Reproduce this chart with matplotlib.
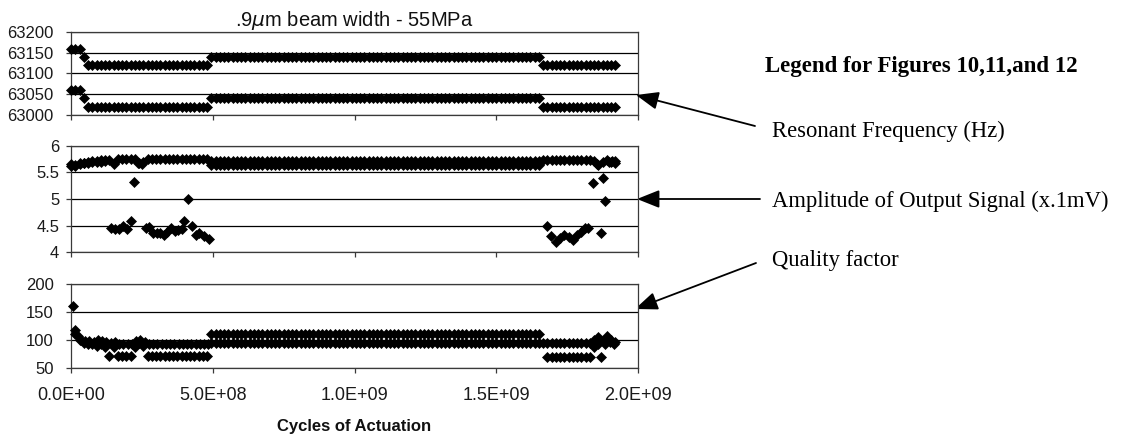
"""Rebuild the .9um beam width / 55MPa fatigue chart with the figure legend."""
import matplotlib

matplotlib.use("Agg")
import matplotlib.pyplot as plt
from matplotlib.ticker import FixedLocator, FuncFormatter

plt.rcParams["font.family"] = ["Liberation Sans", "DejaVu Sans"]

W, H = 1141, 438

# readings were logged roughly every 1.5e7 cycles; flat runs are stored as
# (first cycle, last cycle, value) and odd readings as (cycle, value)
SAMPLE_STEP = 1.5e7

freq_a_runs = [(0, 3.0e7, 63160), (4.5e7, 4.5e7, 63140), (6.0e7, 4.8e8, 63120),
               (4.95e8, 1.65e9, 63140), (1.665e9, 1.92e9, 63120)]
freq_b_runs = [(0, 3.0e7, 63060), (4.5e7, 4.5e7, 63040), (6.0e7, 4.8e8, 63020),
               (4.95e8, 1.65e9, 63040), (1.665e9, 1.92e9, 63020)]

amp_a_runs = [(2.85e8, 4.8e8, 5.76), (4.95e8, 1.65e9, 5.71), (1.665e9, 1.83e9, 5.74)]
amp_a_points = [(0, 5.62), (1.5e7, 5.65), (3e7, 5.67), (4.5e7, 5.68), (6e7, 5.70),
                (7.5e7, 5.71), (9e7, 5.72), (1.05e8, 5.73), (1.2e8, 5.74), (1.35e8, 5.74),
                (1.5e8, 5.66), (1.65e8, 5.75), (1.8e8, 5.76), (1.95e8, 5.75), (2.1e8, 5.76),
                (2.25e8, 5.75), (2.4e8, 5.68), (2.55e8, 5.70), (2.7e8, 5.75),
                (1.845e9, 5.72), (1.86e9, 5.65), (1.875e9, 5.70), (1.89e9, 5.73),
                (1.905e9, 5.70), (1.92e9, 5.71)]

amp_b_runs = [(4.95e8, 1.65e9, 5.64)]
amp_b_points = [(0, 5.66), (1.5e7, 5.63), (3e7, 5.66), (4.5e7, 5.67), (6e7, 5.68),
                (7.5e7, 5.69), (9e7, 5.70), (1.05e8, 5.70), (1.2e8, 5.71),
                (1.4e8, 4.46), (1.55e8, 4.44), (1.68e8, 4.43), (1.82e8, 4.50), (1.96e8, 4.44),
                (2.1e8, 4.58), (2.23e8, 5.33), (2.38e8, 5.67), (2.5e8, 5.66),
                (2.63e8, 4.45), (2.76e8, 4.47), (2.9e8, 4.36), (3.02e8, 4.35), (3.14e8, 4.35),
                (3.27e8, 4.33), (3.4e8, 4.37), (3.53e8, 4.45), (3.66e8, 4.40), (3.78e8, 4.42),
                (3.9e8, 4.43), (4.0e8, 4.58), (4.13e8, 5.00), (4.26e8, 4.50), (4.4e8, 4.33),
                (4.53e8, 4.35), (4.68e8, 4.30), (4.86e8, 4.25),
                (1.68e9, 4.49), (1.693e9, 4.31), (1.71e9, 4.19), (1.725e9, 4.26),
                (1.74e9, 4.32), (1.755e9, 4.28), (1.77e9, 4.23), (1.785e9, 4.32),
                (1.798e9, 4.38), (1.812e9, 4.46), (1.825e9, 4.46), (1.842e9, 5.30),
                (1.856e9, 5.66), (1.868e9, 4.36), (1.875e9, 5.39), (1.884e9, 4.96),
                (1.897e9, 5.70), (1.91e9, 5.72), (1.92e9, 5.68)]

q_a_runs = [(2.75e8, 4.8e8, 93), (4.95e8, 1.65e9, 111), (1.665e9, 1.83e9, 94)]
q_a_points = [(8e6, 160), (1.5e7, 118), (2.5e7, 108), (3.5e7, 100), (5e7, 98), (6.5e7, 98),
              (8e7, 97), (9.5e7, 100), (1.1e8, 98), (1.25e8, 97), (1.4e8, 95), (1.55e8, 97),
              (1.7e8, 93), (1.85e8, 92), (2e8, 92), (2.15e8, 93), (2.3e8, 98), (2.45e8, 100),
              (2.6e8, 96), (1.845e9, 100), (1.86e9, 106), (1.875e9, 98), (1.89e9, 108),
              (1.905e9, 100), (1.92e9, 96)]

q_b_runs = [(2.7e8, 4.8e8, 71), (4.95e8, 1.65e9, 94), (1.68e9, 1.83e9, 70)]
q_b_points = [(1.5e7, 110), (3e7, 100), (4.5e7, 95), (6e7, 92), (7.5e7, 92), (9e7, 90),
              (1.05e8, 92), (1.2e8, 88), (1.35e8, 72), (1.5e8, 88), (1.65e8, 72), (1.8e8, 72),
              (1.95e8, 72), (2.1e8, 72), (2.25e8, 88), (2.4e8, 95), (2.55e8, 90),
              (1.845e9, 88), (1.86e9, 92), (1.87e9, 70), (1.885e9, 92), (1.9e9, 96),
              (1.915e9, 92)]

x_ticks = [0, 5e8, 1e9, 1.5e9, 2e9]
freq_ticks = [63000, 63050, 63100, 63150, 63200]
amp_ticks = [4, 4.5, 5, 5.5, 6]
q_ticks = [50, 100, 150, 200]

legend_title = "Legend for Figures 10,11,and 12"
legend_items = ["Resonant Frequency (Hz)", "Amplitude of Output Signal (x.1mV)", "Quality factor"]


def expand(runs, points=()):
    xs, ys = [], []
    for start, stop, value in runs:
        n = int(round((stop - start) / SAMPLE_STEP)) + 1
        xs += [start + k * SAMPLE_STEP for k in range(n)]
        ys += [value] * n
    for cycle, value in points:
        xs.append(cycle)
        ys.append(value)
    return xs, ys


def px_axes(fig, x0, y0, x1, y1):
    return fig.add_axes([x0 / W, 1 - y1 / H, (x1 - x0) / W, (y1 - y0) / H])


def style(ax, yticks, pad, fmt):
    ax.set_xlim(0, 2e9)
    ax.set_ylim(yticks[0], yticks[-1])
    ax.xaxis.set_major_locator(FixedLocator(x_ticks))
    ax.yaxis.set_major_locator(FixedLocator(yticks))
    ax.yaxis.set_major_formatter(FuncFormatter(fmt))
    ax.grid(axis="y", color="black", lw=0.9)
    ax.set_axisbelow(True)
    for spine in ax.spines.values():
        spine.set_color("#3a3a3a")
        spine.set_linewidth(0.9)
    ax.tick_params(direction="out", length=3.5, width=0.9, color="#3a3a3a",
                   labelsize=12, labelcolor="#1a1a1a")
    ax.tick_params(axis="y", pad=pad)
    ax.tick_params(axis="x", pad=10, labelsize=13)


def dots(ax, xy):
    ax.plot(xy[0], xy[1], ls="none", marker="D", ms=5.0, mew=0.5,
            color="black", clip_on=False, zorder=3)


fig = plt.figure(figsize=(W / 100, H / 100), dpi=100)
ax_f = px_axes(fig, 71, 32, 638, 115)
ax_a = px_axes(fig, 71, 146, 638, 252)
ax_q = px_axes(fig, 71, 284, 638, 368)

style(ax_f, freq_ticks, 9, lambda v, _: f"{v:.0f}")
style(ax_a, amp_ticks, 5, lambda v, _: f"{v:g}")
style(ax_q, q_ticks, 9, lambda v, _: f"{v:.0f}")
for ax in (ax_f, ax_a):
    ax.tick_params(axis="x", labelbottom=False)
ax_q.xaxis.set_major_formatter(FuncFormatter(lambda v, _: f"{v:.1E}"))

dots(ax_f, expand(freq_a_runs))
dots(ax_f, expand(freq_b_runs))
dots(ax_a, expand(amp_a_runs, amp_a_points))
dots(ax_a, expand(amp_b_runs, amp_b_points))
dots(ax_q, expand(q_a_runs, q_a_points))
dots(ax_q, expand(q_b_runs, q_b_points))

fig.text(354 / W, 1 - 26 / H, r".9$\mu$m beam width - 55MPa", ha="center",
         va="baseline", fontsize=14.5, color="#111111")
fig.text(354 / W, 1 - 431 / H, "Cycles of Actuation", ha="center", va="baseline",
         fontsize=12, fontweight="bold", color="#111111")

serif = ["Liberation Serif", "DejaVu Serif"]
fig.text(765 / W, 1 - 72 / H, legend_title, family=serif, fontweight="bold",
         fontsize=16.5, va="baseline")
for label, y in zip(legend_items, (137, 207, 266)):
    fig.text(772 / W, 1 - y / H, label, family=serif, fontsize=16.3, va="baseline")

# arrows: (tail, tip) in image pixels
arrows = [((755, 126), (636, 95)), ((760, 199), (637, 199)), ((756, 263), (635, 309))]
for (tx, ty), (hx, hy) in arrows:
    ax_f.annotate("", xy=(hx, H - hy), xytext=(tx, H - ty),
                  xycoords="figure pixels", textcoords="figure pixels",
                  annotation_clip=False,
                  arrowprops=dict(arrowstyle="-|>,head_length=0.55,head_width=0.22",
                                  mutation_scale=25, lw=1.3, color="black",
                                  shrinkA=0, shrinkB=0))

fig.savefig("out.png", dpi=100)
